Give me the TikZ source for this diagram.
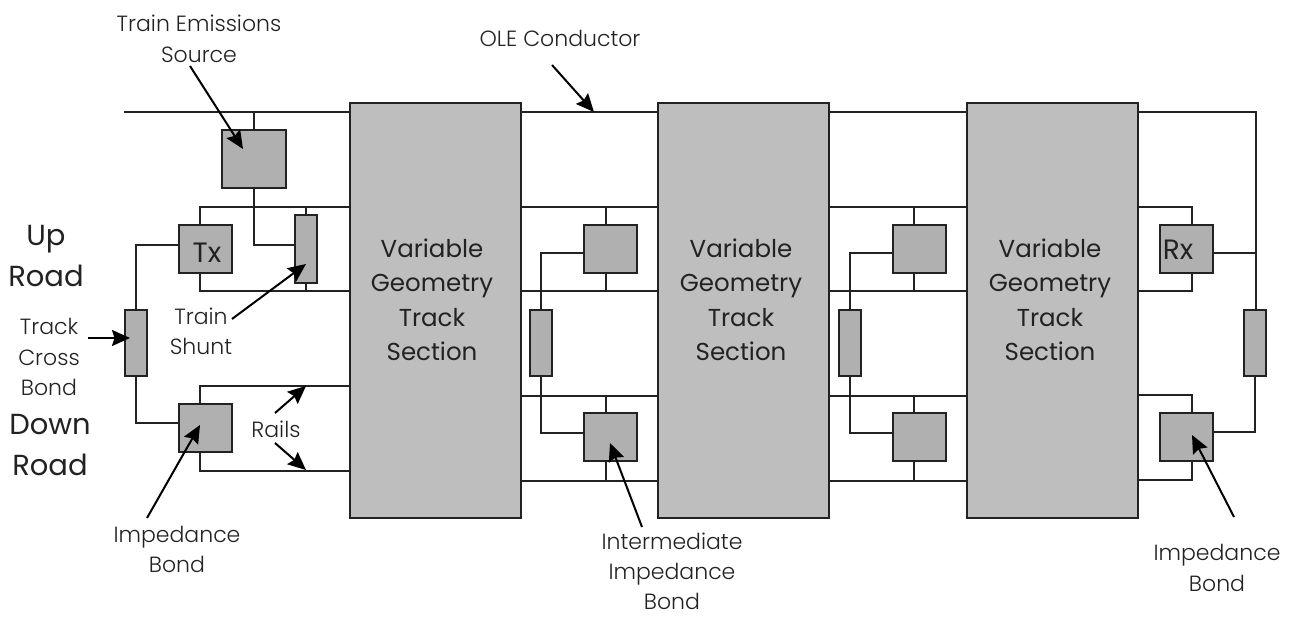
\documentclass[tikz,border=0pt]{standalone}
\usepackage{fontspec}
\setmainfont{Poppins Light}
\newfontfamily\regfont{Poppins}
\usetikzlibrary{arrows.meta}
\definecolor{linec}{HTML}{222222}
\definecolor{bigfill}{HTML}{BEBEBE}
\definecolor{smallfill}{HTML}{B0B0B0}
\definecolor{txt}{HTML}{222222}
\tikzset{
  wire/.style={draw=linec,line width=2pt},
  call/.style={draw=black,line width=2pt,-{Stealth[length=18pt,width=16pt,inset=2.5pt]}},
  comp/.style={draw=linec,line width=2pt,fill=smallfill,inner sep=0pt,outer sep=0pt},
  complab/.style={text=txt,font=\regfont\fontsize{28}{32}\selectfont,inner sep=0pt},
  section/.style={draw=linec,line width=2pt,fill=bigfill,inner sep=0pt,outer sep=0pt,minimum width=171pt,minimum height=415pt},
  bondbox/.style={comp,minimum width=53pt,minimum height=48pt},
  tall/.style={comp,minimum width=22pt,minimum height=66pt},
  lab/.style={text=txt,font=\fontsize{22}{30.5}\selectfont,align=center,inner sep=0pt},
  biglab/.style={text=txt,font=\regfont\fontsize{29}{41}\selectfont,align=center,inner sep=0pt},
  sectlab/.style={text=txt,font=\regfont\fontsize{24.5}{34.5}\selectfont,align=center,inner sep=0pt}
}
\begin{document}
\begin{tikzpicture}[x=1pt,y=-1pt]
\useasboundingbox (0,0) rectangle (1290,617);
\fill[white] (0,0) rectangle (1290,617);
% sections
\node[section] (s1) at (435.5,310.5) {};
\node[section] (s2) at (743.5,310.5) {};
\node[section] (s3) at (1052.5,310.5) {};
\node[sectlab] (t1x) at (432,300) {Variable\\Geometry\\Track\\Section};
\node[sectlab] (t2x) at (741,300) {Variable\\Geometry\\Track\\Section};
\node[sectlab] (t3x) at (1050,300) {Variable\\Geometry\\Track\\Section};
% components
\node[comp,minimum width=64pt,minimum height=58pt] (src) at (254,159) {};
\node[comp,minimum width=22pt,minimum height=68pt] (shunt) at (306,249) {};
\node[bondbox] (tx) at (205.5,249) {};
\node[complab] (txl) at (207,253) {Tx};
\node[bondbox] (ib1) at (205.5,427.5) {};
\node[tall] (cb1) at (136,343) {};
\node[bondbox] (u1) at (610.5,249) {};
\node[bondbox] (d1) at (610.5,437) {};
\node[tall] (cb2) at (541,343) {};
\node[bondbox] (u2) at (919.5,249) {};
\node[bondbox] (d2) at (919.5,437) {};
\node[tall] (cb3) at (850,343) {};
\node[bondbox] (rx) at (1186,249) {};
\node[complab] (rxl) at (1178,250) {Rx};
\node[bondbox] (ib3) at (1186,437) {};
\node[tall] (cb4) at (1255,343) {};
% named ends
\coordinate (ole) at (124,112);
\coordinate (oleR) at (1256,112);
\coordinate (a1) at (200,207);
\coordinate (a2) at (200,291);
\coordinate (a3) at (200,386);
\coordinate (a4) at (200,471);
\coordinate (b) at (606,207);
\coordinate (c) at (914,207);
\coordinate (e) at (1192,207);
% OLE conductor
\draw[wire] (ole) -- (ole -| s1.west);
\draw[wire] (ole -| s1.east) -- (ole -| s2.west);
\draw[wire] (ole -| s2.east) -- (ole -| s3.west);
\draw[wire] (ole -| s3.east) -- (oleR) -- (oleR |- cb4.north);
\draw[wire] (ole -| src.north) -- (src.north);
% left end
\draw[wire] (src.south) |- (shunt.west |- 0,245);
\draw[wire] (tx.north -| a1) -- (a1) -- (a1 -| s1.west);
\draw[wire] (tx.south -| a2) -- (a2) -- (a2 -| s1.west);
\draw[wire] (a1 -| shunt.north) -- (shunt.north);
\draw[wire] (a2 -| shunt.south) -- (shunt.south);
\draw[wire] (tx.west |- 0,245) -| (cb1.north);
\draw[wire] (cb1.south) |- (ib1.west |- 0,423);
\draw[wire] (ib1.north -| a3) -- (a3) -- (a3 -| s1.west);
\draw[wire] (ib1.south -| a4) -- (a4) -- (a4 -| s1.west);
% rails, between sections and beyond
\foreach \up/\dn/\sl/\sr/\x/\cb in {u1/d1/s1/s2/b/cb2,u2/d2/s2/s3/c/cb3}{
  \draw[wire] (\sl.east |- a1) -- (\sr.west |- a1);
  \draw[wire] (\sl.east |- a2) -- (\sr.west |- a2);
  \draw[wire] (\sl.east |- 0,396) -- (\sr.west |- 0,396);
  \draw[wire] (\sl.east |- 0,481) -- (\sr.west |- 0,481);
  \draw[wire] (\x |- a1) -- (\x |- \up.north);
  \draw[wire] (\x |- \up.south) -- (\x |- a2);
  \draw[wire] (\x |- 0,396) -- (\x |- \dn.north);
  \draw[wire] (\x |- \dn.south) -- (\x |- 0,481);
  \draw[wire] (\up.west |- 0,253) -| (\cb.north);
  \draw[wire] (\cb.south) |- (\dn.west |- 0,433);
}
% right end
\draw[wire] (s3.east |- a1) -| (e |- rx.north);
\draw[wire] (s3.east |- a2) -| (e |- rx.south);
\draw[wire] (s3.east |- 0,395) -| (e |- ib3.north);
\draw[wire] (s3.east |- 0,480) -| (e |- ib3.south);
\draw[wire] (rx.east |- 0,253) -- (oleR |- 0,253);
\draw[wire] (cb4.south) |- (ib3.east |- 0,432);
% labels
\node[lab] (lsrc) at (199,39) {Train Emissions\\Source};
\node[lab] (lole) at (560,38) {OLE Conductor};
\node[biglab] (lup) at (46,256) {Up\\Road};
\node[biglab] (ldn) at (50,445) {Down\\Road};
\node[lab] (ltrack) at (49,357) {Track\\Cross\\Bond};
\node[lab] (lshunt) at (201,331.5) {Train\\Shunt};
\node[lab] (lrails) at (276,429) {Rails};
\node[lab] (limp) at (177,549.5) {Impedance\\Bond};
\node[lab,font=\fontsize{22}{30}\selectfont] (lint) at (672,571.5) {Intermediate\\Impedance\\Bond};
\node[lab] (limp2) at (1217,568) {Impedance\\Bond};
% callouts
\coordinate (t1) at (190,66); \coordinate (h1) at (243,149);
\coordinate (t2) at (552,65); \coordinate (h2) at (594,112);
\coordinate (t3) at (232,319); \coordinate (h3) at (306,264);
\coordinate (t4) at (88,338); \coordinate (h4) at (130,338);
\coordinate (t5) at (275,413); \coordinate (h5) at (306,386);
\coordinate (t6) at (275,443); \coordinate (h6) at (306,470);
\coordinate (t7) at (147,518); \coordinate (h7) at (200,425);
\coordinate (t8) at (642,527); \coordinate (h8) at (610,443);
\coordinate (t9) at (1234,517); \coordinate (h9) at (1192,435);
\foreach \i in {1,...,9}{\draw[call] (t\i) -- (h\i);}
\end{tikzpicture}
\end{document}
